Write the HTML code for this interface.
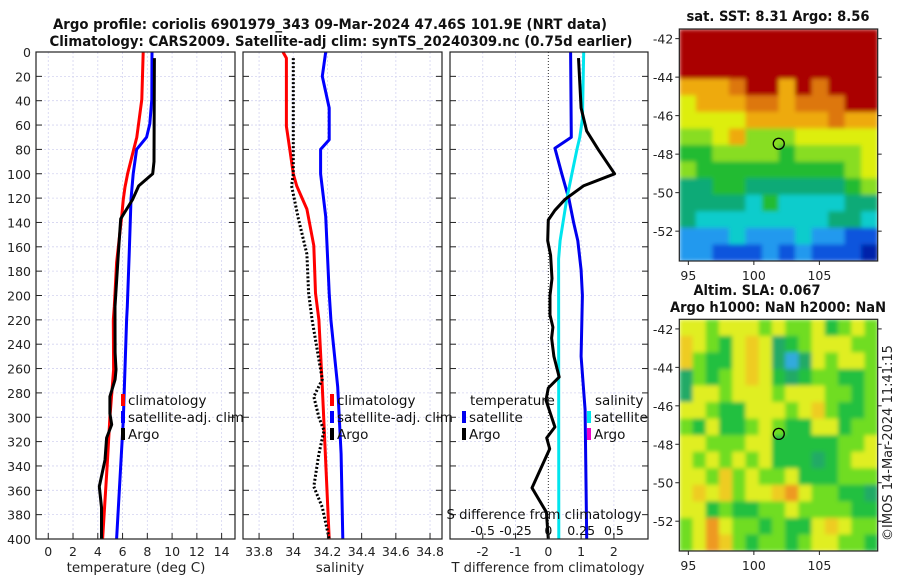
<!DOCTYPE html>
<html><head><meta charset="utf-8"><style>
html,body{margin:0;padding:0;background:#fff;width:900px;height:580px;overflow:hidden}
svg{display:block;font-family:"DejaVu Sans","Liberation Sans",sans-serif}
</style></head><body>
<svg id="fig" width="900" height="580" viewBox="0 0 900 580">
<defs>
<filter id="blur" x="0" y="0" width="1" height="1"><feGaussianBlur stdDeviation="2.2" edgeMode="duplicate"/></filter>
<clipPath id="clipA"><rect x="679.3" y="29" width="198.4" height="232"/></clipPath>
<clipPath id="clipB"><rect x="679.3" y="319.3" width="198.4" height="231.7"/></clipPath>
</defs>
</svg>
<script>
// ---- data ----
const depthTicks=[0,20,40,60,80,100,120,140,160,180,200,220,240,260,280,300,320,340,360,380,400];
const tempTicks=[0,2,4,6,8,10,12,14];
const salTicks=[33.8,34,34.2,34.4,34.6,34.8];
const tdiffTicks=[-2,-1,0,1,2];
const sdiffTicks=[-0.5,-0.25,0,0.25,0.5];
const sdiffLabels=["-0.5","-0.25","0","0.25","0.5"];
// temperature profiles
const climTdepth=[0,39,70,80,100,111,121,135,173,209,220,261,300,338,400];
const climT=[7.67,7.55,7.15,6.9,6.41,6.2,6.06,5.93,5.52,5.33,5.25,5.28,4.98,4.77,4.39];
const satTdepth=[0,39,59,70,80,100,121,166,209,220,302,400];
const satT=[8.38,8.36,8.2,7.94,7.13,6.86,6.68,6.54,6.38,6.33,6.06,5.52];
const argoTdepth=[5,90,100,110,121,137,166,209,220,247,261,269,283,297,306,317,335,357,374,400];
const argoT=[8.57,8.54,8.43,7.3,6.82,5.85,5.66,5.39,5.39,5.4,5.47,5.4,4.98,4.98,5.12,4.71,4.58,4.12,4.3,4.3];
// salinity profiles
const climSdepth=[0,5,61,80,100,110,129,159,198,220,275,400];
const climS=[33.94,33.96,33.96,33.98,34.0,34.02,34.08,34.12,34.13,34.15,34.17,34.21];
const satSdepth=[0,20,46,72,80,100,135,198,220,275,330,400];
const satS=[34.19,34.17,34.21,34.21,34.16,34.16,34.19,34.21,34.22,34.26,34.28,34.29];
const argoSdepth=[5,100,110,137,166,198,220,261,269,283,300,311,330,357,374,400];
const argoS=[34.0,34.0,33.99,34.03,34.08,34.09,34.11,34.16,34.17,34.12,34.15,34.18,34.15,34.12,34.17,34.21];
// differences from climatology
const satTdiffDepth=[0,70,79,100,121,140,155,179,200,250,294,400];
const satTdiff=[0.68,0.7,0.2,0.41,0.63,0.77,0.9,1.0,1.04,1.0,1.12,1.17];
const argoTdiffDepth=[5,46,65,80,100,110,121,130,138,155,167,186,200,216,226,235,250,267,276,286,308,317,326,358,378,400];
const argoTdiff=[0.92,1.0,1.17,1.52,2.02,1.07,0.51,0.2,0,-0.02,0.07,0.11,0.05,0.05,0.14,0.1,0.17,0.33,0.0,-0.07,0.2,-0.05,0.04,-0.5,-0.06,0.0];
const satSdiffDepth=[0,55,70,79,100,121,155,170,400];
const satSdiff=[0.27,0.26,0.24,0.22,0.18,0.14,0.09,0.078,0.08];
// maps
const lonTicks=[95,100,105];
const latTicks=[-42,-44,-46,-48,-50,-52];
const sstGrid=[
[10,10,10,10,10,10,10,10,10,10,10,10],
[10,10,10,10,10,10,10,10,10,10,10,10],
[10,10,10,10,10,10,10,10,10,10,10,10],
[8,8,8,9,10,10,8,10,9,10,10,10],
[7,8,8,8,9,9,8,9,9,9,10,10],
[7,7,7,7,8,8,8,8,8,9,8,8],
[6,6,7,8,6,6,6,7,7,7,7,7],
[5,5,6,6,6,6,5,6,6,6,6,7],
[6,5,5,5,5,5,5,5,5,5,6,7],
[4,4,5,5,4,4,4,4,4,4,5,6],
[4,4,4,4,3,5,3,3,3,3,4,4],
[4,3,3,3,3,3,3,3,3,4,4,3],
[2,2,2,3,2,2,2,3,2,2,1,1],
[2,2,1,1,1,2,1,2,1,1,1,0]];
const slaGrid=[
[4,4,3,4,4,4,3,4,3,3,4,2,3,4,3],
[5,4,3,2,4,5,4,1,2,3,4,4,4,3,3],
[5,3,2,2,4,5,4,1,0,1,4,3,4,4,3],
[1,3,2,3,4,5,4,2,1,2,3,3,2,2,3],
[1,4,4,3,4,4,4,3,4,4,4,3,3,2,3],
[4,4,3,2,2,4,4,4,3,4,5,3,2,2,3],
[3,2,4,2,2,3,4,3,2,2,4,4,2,3,3],
[4,4,3,3,3,4,4,2,2,2,2,2,3,3,4],
[4,3,4,3,4,3,4,2,2,2,1,2,3,4,4],
[4,4,3,5,3,4,3,3,4,2,2,2,3,3,3],
[4,5,4,5,3,4,4,5,6,4,3,3,2,2,1],
[4,4,2,3,2,2,3,3,4,3,3,3,3,2,2],
[3,4,6,4,3,3,2,3,2,2,4,5,4,3,3],
[3,4,6,5,3,2,3,3,2,3,4,4,3,3,2]];
const argoLon=[101.9];
const argoLat=[-47.46];

const sstColors=['#0022aa','#1155dd','#2299ee','#11cccc','#11aa77','#22bb33','#88dd22','#ddee11','#eeaa11','#dd7711','#aa0000'];
const slaColors=['#33aadd','#22aa66','#22c040','#70dd22','#e0ee22','#eecc22','#ee9922'];

const NS='http://www.w3.org/2000/svg';
const svg=document.getElementById('fig');
function el(tag,attrs,parent,txt){const e=document.createElementNS(NS,tag);for(const k in attrs)e.setAttribute(k,attrs[k]);if(txt!==undefined)e.textContent=txt;(parent||svg).appendChild(e);return e;}

const PT=52,PB=539;
const FS=12.5;
const yD=d=>PT+(d/400)*(PB-PT);
function panel(name,x0,x1,dmin,dmax,vgrid){
  const g=el('g',{},svg);
  
  
  const sx=v=>x0+(v-dmin)/(dmax-dmin)*(x1-x0);
  depthTicks.forEach(d=>{el('line',{x1:x0,x2:x1,y1:yD(d),y2:yD(d),stroke:'#d4d4f0','stroke-width':0.8,'stroke-dasharray':'2,2'},g);});
  vgrid.forEach(v=>{el('line',{x1:sx(v),x2:sx(v),y1:PT,y2:PB,stroke:'#d4d4f0','stroke-width':0.8,'stroke-dasharray':'2,2'},g);});
  return {g,sx};
}
function ticksY(g,x0,x1,labels){
  depthTicks.forEach(d=>{
    el('line',{x1:x0,x2:x0+6,y1:yD(d),y2:yD(d),stroke:'#222','stroke-width':1},g);
    el('line',{x1:x1-6,x2:x1,y1:yD(d),y2:yD(d),stroke:'#222','stroke-width':1},g);
    if(labels){const t=el('text',{x:x0-5,y:yD(d)+5,'text-anchor':'end','font-size':FS,fill:'#222'},g,String(d));}
  });
}
function line(g,sx,vals,depths,color,w,dash,name){
  const pts=vals.map((v,i)=>sx(v).toFixed(1)+','+yD(depths[i]).toFixed(1)).join(' ');
  const p=el('polyline',{points:pts,fill:'none',stroke:color,'stroke-width':w,'stroke-linejoin':'round'},g);
  if(dash)p.setAttribute('stroke-dasharray',dash);
  
  
}
function frame(g,x0,x1){el('rect',{x:x0,y:PT,width:x1-x0,height:PB-PT,fill:'none',stroke:'#222','stroke-width':1.2},g);}
function legendEntry(g,x,y,color,label,name){
  const r=el('rect',{x:x,y:y-11,width:4,height:12,fill:color},g);
  
  
  const t=el('text',{x:x+7,y:y,'font-size':13.5,fill:'#111'},g,label);
  
  
}

let t=el('text',{x:330,y:29,'text-anchor':'middle','font-size':14,'font-weight':'bold',fill:'#111',textLength:554,lengthAdjust:'spacingAndGlyphs'},svg,'Argo profile: coriolis 6901979_343 09-Mar-2024 47.46S 101.9E (NRT data)');

t=el('text',{x:341,y:46,'text-anchor':'middle','font-size':14,'font-weight':'bold',fill:'#111',textLength:583,lengthAdjust:'spacingAndGlyphs'},svg,'Climatology: CARS2009. Satellite-adj clim: synTS_20240309.nc (0.75d earlier)');


// Panel 1 temperature
{const x0=36,x1=235;const {g,sx}=panel('temperature-panel',x0,x1,-0.99,15.08,tempTicks);
 line(g,sx,climT,climTdepth,'#ff0000',3,null,'climatology-temperature-line');
 line(g,sx,satT,satTdepth,'#0000ff',3,null,'satellite-temperature-line');
 line(g,sx,argoT,argoTdepth,'#000',3,null,'argo-temperature-line');
 frame(g,x0,x1);ticksY(g,x0,x1,true);
 tempTicks.forEach(v=>{el('line',{x1:sx(v),x2:sx(v),y1:PB,y2:PB-6,stroke:'#222'},g);const tt=el('text',{x:sx(v),y:PB+17,'text-anchor':'middle','font-size':FS,fill:'#222'},g,String(v));});
 const xl=el('text',{x:136,y:572,'text-anchor':'middle','font-size':13.5,fill:'#222'},g,'temperature (deg C)');
 legendEntry(g,121,405,'#ff0000','climatology','legend-climatology');
 legendEntry(g,121,422,'#0000ff','satellite-adj. clim','legend-satellite-adj-clim');
 legendEntry(g,121,439,'#000','Argo','legend-argo');
}
// Panel 2 salinity
{const x0=243,x1=442;const {g,sx}=panel('salinity-panel',x0,x1,33.706,34.87,salTicks);
 line(g,sx,climS,climSdepth,'#ff0000',3,null,'climatology-salinity-line');
 line(g,sx,satS,satSdepth,'#0000ff',3,null,'satellite-salinity-line');
 line(g,sx,argoS,argoSdepth,'#000',3,'2,2','argo-salinity-line');
 frame(g,x0,x1);ticksY(g,x0,x1,false);
 salTicks.forEach(v=>{el('line',{x1:sx(v),x2:sx(v),y1:PB,y2:PB-6,stroke:'#222'},g);const tt=el('text',{x:sx(v),y:PB+17,'text-anchor':'middle','font-size':FS,fill:'#222'},g,String(v));});
 const xl=el('text',{x:340,y:572,'text-anchor':'middle','font-size':13.5,fill:'#222'},g,'salinity');
 legendEntry(g,330,405,'#ff0000','climatology','legend-climatology-sal');
 legendEntry(g,330,422,'#0000ff','satellite-adj. clim','legend-satellite-adj-clim-sal');
 legendEntry(g,330,439,'#000','Argo','legend-argo-sal');
}
// Panel 3 differences
{const x0=450,x1=648;const {g,sx}=panel('difference-panel',x0,x1,-3.0,3.04,[-2,-1,1,2]);
 el('line',{x1:sx(0),x2:sx(0),y1:PT,y2:PB,stroke:'#333','stroke-width':1,'stroke-dasharray':'1,2'},g);
 const ss=v=>sx(v*4);
 line(g,sx,satTdiff,satTdiffDepth,'#0000ee',3,null,'satellite-tdiff-line');
 line(g,ss,satSdiff,satSdiffDepth,'#00e5ee',3,null,'satellite-sdiff-line');
 line(g,sx,argoTdiff,argoTdiffDepth,'#000',3,null,'argo-tdiff-line');
 frame(g,x0,x1);ticksY(g,x0,x1,false);
 tdiffTicks.forEach(v=>{el('line',{x1:sx(v),x2:sx(v),y1:PB,y2:PB-6,stroke:'#222'},g);const tt=el('text',{x:sx(v),y:PB+17,'text-anchor':'middle','font-size':FS,fill:'#222'},g,String(v));});
 sdiffTicks.forEach((v,i)=>{const tt=el('text',{x:ss(v),y:535,'text-anchor':'middle','font-size':FS,fill:'#111'},g,sdiffLabels[i]);});
 let a=el('text',{x:544,y:519,'text-anchor':'middle','font-size':13.5,fill:'#111',textLength:195,lengthAdjust:'spacingAndGlyphs'},g,'S difference from climatology');
 a=el('text',{x:548,y:572,'text-anchor':'middle','font-size':13.5,fill:'#222',textLength:193,lengthAdjust:'spacingAndGlyphs'},g,'T difference from climatology');
 a=el('text',{x:470,y:405,'font-size':13.5,fill:'#111'},g,'temperature');
 a=el('text',{x:595,y:405,'font-size':13.5,fill:'#111'},g,'salinity');
 legendEntry(g,462,422,'#0000ee','satellite','legend-temp-satellite');
 legendEntry(g,462,439,'#000','Argo','legend-temp-argo');
 legendEntry(g,587,422,'#00e5ee','satellite','legend-sal-satellite');
 legendEntry(g,587,439,'#ee00cc','Argo','legend-sal-argo');
}
// Maps
function map(name,y0,y1,grid,colors,clip){
  const x0=679.3,x1=877.7,lon0=94.31,lon1=109.45,lat0=-41.5,lat1=-53.55;
  const g=el('g',{},svg);
  
  
  const sx=v=>x0+(v-lon0)/(lon1-lon0)*(x1-x0);
  const sy=v=>y0+(v-lat0)/(lat1-lat0)*(y1-y0);
  const cg=el('g',{'clip-path':'url(#'+clip+')'},g);
  const img=el('g',{filter:'url(#blur)'},cg);
  const rows=grid.length,cols=grid[0].length,cw=(x1-x0)/cols,ch=(y1-y0)/rows;
  grid.forEach((row,r)=>row.forEach((v,c)=>{
    const cell=el('rect',{x:(x0+c*cw).toFixed(2),y:(y0+r*ch).toFixed(2),width:(cw+0.6).toFixed(2),height:(ch+0.6).toFixed(2),fill:colors[v]},img);
    
    
  }));
  el('rect',{x:x0,y:y0,width:x1-x0,height:y1-y0,fill:'none',stroke:'#222','stroke-width':1.2},g);
  lonTicks.forEach(v=>{el('line',{x1:sx(v),x2:sx(v),y1:y1,y2:y1+4,stroke:'#222'},g);const tt=el('text',{x:sx(v),y:y1+19,'text-anchor':'middle','font-size':FS,fill:'#222'},g,String(v));});
  latTicks.forEach(v=>{el('line',{x1:x0-4,x2:x0,y1:sy(v),y2:sy(v),stroke:'#222'},g);el('line',{x1:x1,x2:x1+4,y1:sy(v),y2:sy(v),stroke:'#222'},g);const tt=el('text',{x:x0-6,y:sy(v)+5,'text-anchor':'end','font-size':FS,fill:'#222'},g,String(v));});
  const c=el('circle',{cx:sx(argoLon[0]),cy:sy(argoLat[0]),r:5.5,fill:'none',stroke:'#000','stroke-width':1.3},g);
  
  
}
map('sst-map',29,261,sstGrid,sstColors,'clipA');
map('sla-map',319.3,551,slaGrid,slaColors,'clipB');
t=el('text',{x:778,y:21,'text-anchor':'middle','font-size':14,'font-weight':'bold',fill:'#111',textLength:183,lengthAdjust:'spacingAndGlyphs'},svg,'sat. SST: 8.31 Argo: 8.56');

t=el('text',{x:757,y:295,'text-anchor':'middle','font-size':14,'font-weight':'bold',fill:'#111',textLength:127,lengthAdjust:'spacingAndGlyphs'},svg,'Altim. SLA: 0.067');

t=el('text',{x:778,y:312,'text-anchor':'middle','font-size':14,'font-weight':'bold',fill:'#111',textLength:216,lengthAdjust:'spacingAndGlyphs'},svg,'Argo h1000: NaN h2000: NaN');

t=el('text',{x:0,y:0,'text-anchor':'middle','font-size':13,fill:'#222',transform:'translate(892,443) rotate(-90)'},svg,'©IMOS 14-Mar-2024 11:41:15');

</script>
</body></html>
